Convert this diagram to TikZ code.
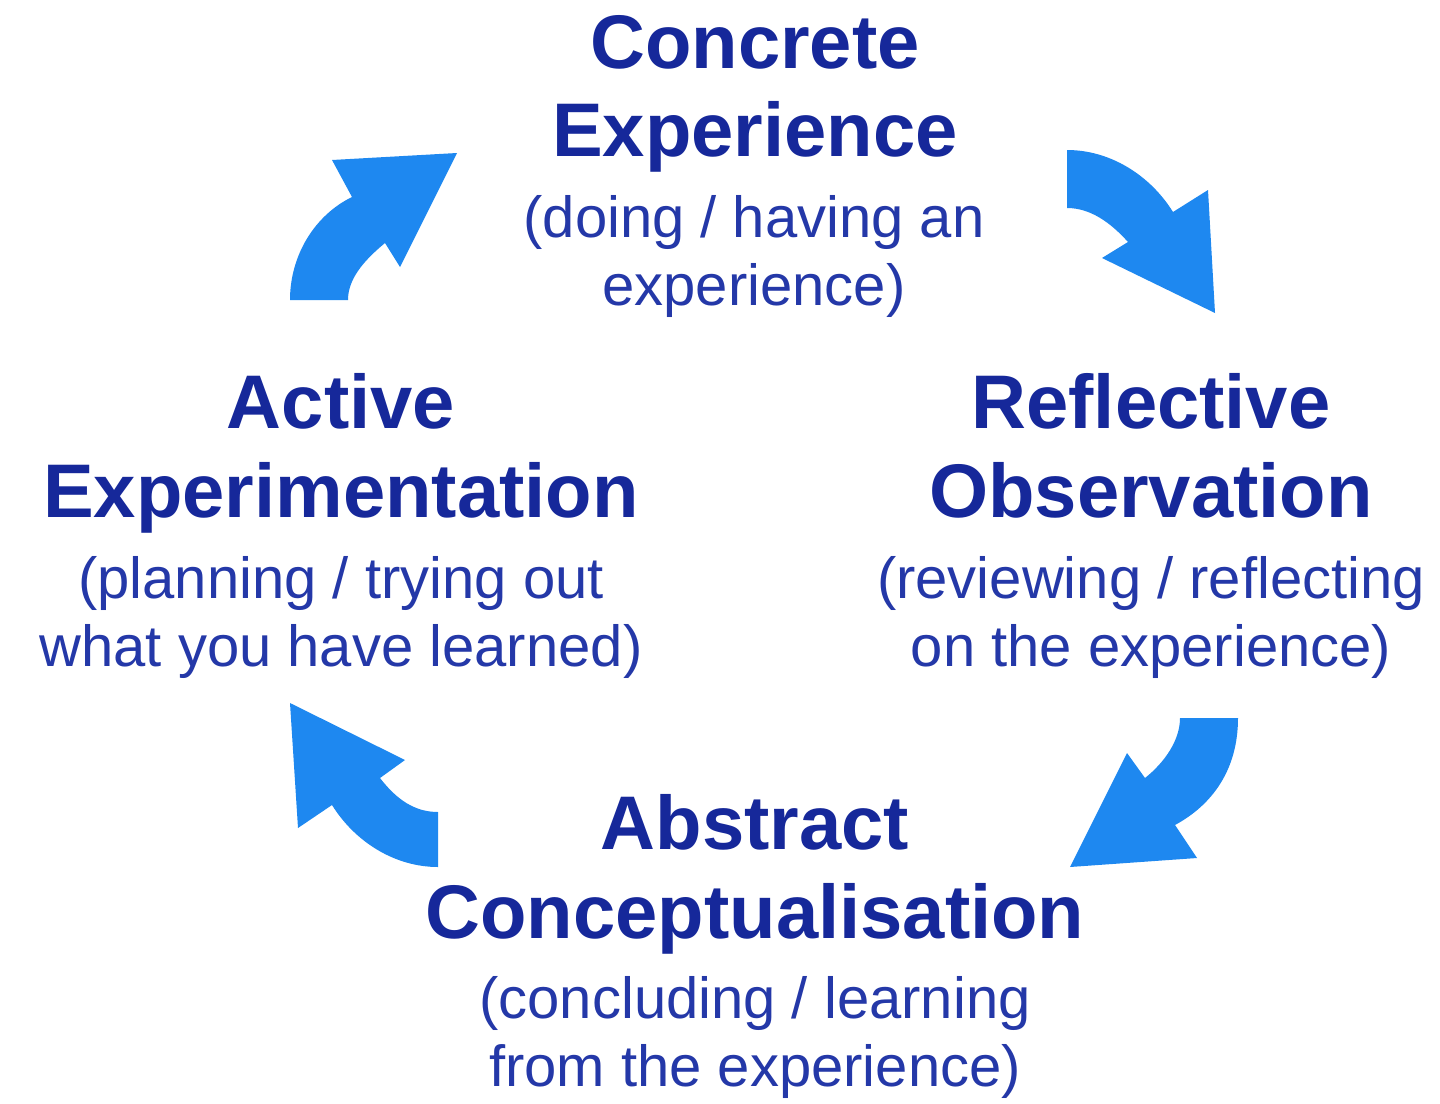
\documentclass[tikz,border=0pt]{standalone}
\usepackage{fontspec}
\setmainfont{Liberation Sans}
\definecolor{arrowblue}{HTML}{1E88F0}
\definecolor{titleblue}{HTML}{16289A}
\definecolor{subblue}{HTML}{2438A8}
\begin{document}
\begin{tikzpicture}[x=1pt,y=-1pt,
  ttl/.style={anchor=base, inner sep=0pt, text=titleblue, font=\bfseries\fontsize{76}{88}\selectfont},
  sub/.style={anchor=base, inner sep=0pt, text=subblue, font=\fontsize{58}{70}\selectfont},
  bigarrow/.style={fill=arrowblue, draw=none}]
\useasboundingbox (0,0) rectangle (1440,1103);
\fill[white] (0,0) rectangle (1440,1103);

% Concrete Experience
\node[ttl] (ce1) at (755,68) {Concrete};
\node[ttl] (ce2) at (755,156) {Experience};
\node[sub] (ce3) at (754,237) {(doing / having an};
\node[sub] (ce4) at (754,305) {experience)};

% Reflective Observation
\node[ttl] (ro1) at (1151,428) {Reflective};
\node[ttl] (ro2) at (1151,517) {Observation};
\node[sub] (ro3) at (1151,598) {(reviewing / reflecting};
\node[sub] (ro4) at (1151,666) {on the experience)};

% Active Experimentation
\node[ttl] (ae1) at (341,428) {Active};
\node[ttl] (ae2) at (341,517) {Experimentation};
\node[sub] (ae3) at (341,598) {(planning / trying out};
\node[sub] (ae4) at (341,666) {what you have learned)};

% Abstract Conceptualisation
\node[ttl] (ac1) at (755,849) {Abstract};
\node[ttl] (ac2) at (755,938) {Conceptualisation};
\node[sub] (ac3) at (755,1018) {(concluding / learning};
\node[sub] (ac4) at (755,1086) {from the experience)};

% Arrow: Active -> Concrete (NE)
\fill[bigarrow] (290,300) .. controls (290,255) and (315,215) .. (352,197)
  -- (332,160) -- (457,153) -- (400,267) -- (385,243)
  .. controls (362,262) and (348,280) .. (348,300) -- cycle;

% Arrow: Concrete -> Reflective (SE)
\fill[bigarrow] (1067,150) .. controls (1110,150) and (1150,175) .. (1173,212)
  -- (1208,190) -- (1215,313) -- (1102,258) -- (1128,242)
  .. controls (1110,222) and (1090,208) .. (1067,208) -- cycle;

% Arrow: Reflective -> Abstract (SW)
\fill[bigarrow] (1238,718) .. controls (1238,770) and (1212,805) .. (1175,825)
  -- (1197,858) -- (1070,867) -- (1127,753) -- (1145,778)
  .. controls (1165,762) and (1180,740) .. (1180,718) -- cycle;

% Arrow: Abstract -> Active (NW)
\fill[bigarrow] (438,867) .. controls (395,867) and (355,842) .. (332,805)
  -- (298,828) -- (290,703) -- (405,760) -- (380,778)
  .. controls (397,800) and (415,812) .. (438,812) -- cycle;
\end{tikzpicture}
\end{document}
